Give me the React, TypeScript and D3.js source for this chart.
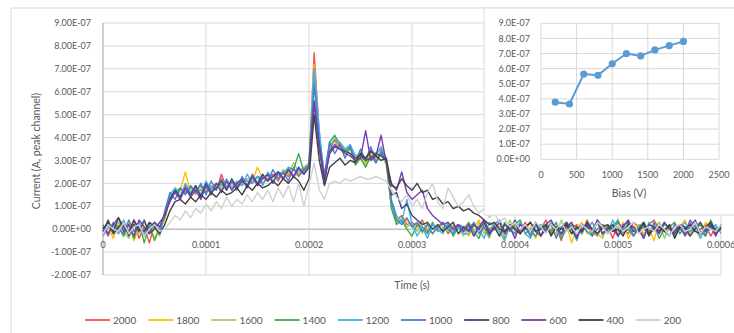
import React from 'react';
import * as d3 from 'd3';

// ---- Data (current values in units of 1e-8 A, sampled every 5 µs from 0 to 600 µs) ----
const seriesNames = ['2000', '1800', '1600', '1400', '1200', '1000', '800', '600', '400', '200'];
const seriesColors = ['#FF4B4B', '#FFC000', '#9BD35A', '#3BAA4E', '#3FB3F0', '#4A7FD0', '#3F4A75', '#7A3DB0', '#404040', '#D0D0D0'];
const timeStep = 5e-6;
const valueUnit = 1e-8;

const s2000 = [1,-3,2,-2,3,-1,4,-4,1,-6,2,-1, 5,13,17,14,19,15,18,17,16,19,17,24,18,20,19,22,19,21,23,20,22,24,21,25,23,26,24,27,28, 77,42,21,35,39,36,34,36,31,33,30,34,33,35,30, 12,4,6,2,3,1,4,-1,2,0,3,-2,1,2,-1, 2,-3,1,4,-2,0,3,-4,2,1,-1,3,-3,2,0,4,-2,1,-5,3,0,2,-2,4,-1,-3,2,1,-4,3,0,-2,3,1,-3,2,4,-1,0,-3,2,1,-2,3,-1,0,2,-3,1,0];
const s1800 = [-2,1,-4,2,-3,3,-5,1,-2,2,-4,0, 4,14,16,17,25,16,19,15,18,17,20,18,19,21,18,20,22,21,27,22,23,21,24,22,25,23,24,26,27, 72,40,22,37,38,35,33,35,29,32,28,33,30,34,29, 10,5,3,4,1,2,-2,3,0,2,-1,1,3,-2,0, -3,1,4,-2,0,3,-1,-5,2,0,3,-2,1,-4,2,0,3,-3,1,2,-6,1,3,-2,0,4,-3,1,2,-1,3,-4,0,2,-2,1,-5,3,0,2,-3,1,4,-2,0,-4,3,1,-2,2];
const s1600 = [0,2,-2,3,-1,-4,2,-2,3,-1,1,-3, 6,13,18,16,17,19,15,18,17,19,18,20,17,21,20,19,22,21,23,22,24,23,22,26,24,29,25,27,29, 70,41,23,36,40,37,35,33,30,34,29,32,31,33,28, 11,3,5,1,2,-1,3,0,-2,2,1,-1,2,0,-3, 1,-2,3,0,-4,2,1,-3,4,-1,0,2,-2,3,-3,1,0,-2,4,-1,2,-3,0,1,3,-2,-4,2,0,1,-1,3,-3,2,0,-2,1,3,-4,1,0,2,-1,-3,2,3,-2,0,1,-1];
const s1400 = [-1,3,-2,1,-3,2,-4,3,-6,2,-5,1, 5,14,16,18,16,18,17,19,16,18,20,19,21,18,20,22,21,20,23,22,24,23,25,24,27,26,33,25,28, 68,39,20,38,41,37,34,36,28,31,27,32,29,33,30, 9,2,4,0,-3,2,1,-2,3,-1,0,2,-3,1,0, 3,-1,-4,2,0,1,-3,3,-1,2,4,-2,0,-3,1,2,-1,3,-4,0,2,1,-2,3,-3,0,2,-1,1,4,-2,0,-3,1,3,-1,2,-4,0,1,3,-2,1,-1,0,2,-3,4,-1,1];
const s1200 = [-3,1,2,-2,4,-1,1,3,-2,0,2,-1, 7,15,18,14,20,16,19,15,21,17,20,17,22,18,21,19,24,20,23,19,25,21,24,22,27,23,26,24,27, 70,43,22,36,39,38,35,37,32,33,31,35,32,36,31, 13,6,3,13,2,-3,1,-4,2,0,-2,3,-1,1,-2, -2,2,0,-4,3,1,-1,-5,2,0,3,-2,-4,1,2,-1,3,0,-3,2,1,-5,2,0,3,-2,1,-1,4,-3,0,2,-1,1,-4,3,0,-2,2,1,-3,0,3,-1,2,-4,1,0,2,-2];
const s1000 = [2,-2,3,0,-2,4,-1,2,-3,1,3,-2, 8,16,13,18,15,19,16,20,15,21,17,22,18,21,17,23,19,24,20,23,21,26,22,25,21,27,23,26,28, 63,38,24,38,33,37,31,36,29,35,30,36,29,34,30, 12,4,2,5,1,3,-1,2,-2,1,3,0,-2,2,1, 0,3,-2,1,-3,2,4,-1,0,-2,2,1,-3,3,0,-1,2,-4,1,3,-2,0,2,-1,-3,4,1,-2,0,3,-1,2,-3,0,1,-2,3,1,-1,-3,2,0,-2,4,1,-1,-3,2,0,1];
const s800 = [-1,4,-2,1,3,-3,2,-1,4,-2,0,3, 6,13,17,14,18,15,19,14,20,16,18,21,17,22,18,21,19,23,20,24,21,23,25,22,26,23,27,24,27, 55,36,22,33,36,35,34,33,31,32,30,31,33,32,30, 15,16,9,11,6,4,2,3,0,2,-1,1,3,-2,1, -1,2,0,3,-2,1,-3,2,0,4,-2,1,-1,3,-3,0,2,1,-2,3,0,-4,2,1,-1,3,-2,0,2,-3,1,4,-1,0,2,-3,1,-1,3,0,-2,2,1,-3,0,3,-1,2,-2,1];
const s600 = [1,-2,2,5,-1,2,-3,4,1,-2,3,1, 7,12,16,13,18,14,17,13,19,15,20,16,21,17,20,22,18,23,19,22,24,20,25,22,26,23,27,24,27, 56,35,20,34,37,35,33,32,30,31,43,30,32,41,29, 20,17,25,16,13,15,17,9,6,4,2,3,0,2,-1, 2,-3,1,4,-1,0,3,-2,1,-4,2,0,3,-1,-3,2,4,0,-2,1,3,-3,0,2,-1,4,-2,1,0,-3,2,3,-1,0,-4,2,1,-2,3,0,-1,2,-3,1,4,-2,0,1,-3,2];
const s400 = [0,3,-1,5,1,-2,4,0,-1,3,1,-2, 2,8,12,13,11,14,12,15,13,16,14,17,15,16,18,15,19,17,20,18,19,21,19,22,20,23,21,17,22, 50,30,19,27,29,31,28,30,29,33,31,34,32,30,31, 19,18,22,19,17,20,16,17,13,14,11,12,9,10,8, 9,7,6,4,2,3,0,-1,2,0,-2,1,3,-1,0,2,-3,1,0,2,-2,1,-1,3,0,-2,1,2,-1,0,-3,2,1,-1,3,-2,0,1,-1,2,-4,1,0,2,-1,-2,1,3,-1,0];
const s200 = [-2,2,0,-1,3,-2,1,2,-3,0,2,-1, 0,3,6,4,8,5,9,7,11,8,12,9,14,10,13,11,15,12,16,13,17,12,18,14,19,12,20,10,19, 29,17,13,20,21,20,22,21,22,23,22,22,23,22,21, 17,14,12,15,10,13,9,16,20,12,9,18,14,10,12, 15,10,7,9,5,7,3,5,1,3,0,2,-1,3,1,-2,2,0,3,-1,1,-2,2,0,-1,3,1,-2,0,2,-1,1,3,-2,0,1,-1,2,0,-3,1,2,-1,0,3,-2,1,0,-1,2];
const seriesValues = [s2000, s1800, s1600, s1400, s1200, s1000, s800, s600, s400, s200];

const xTicks = [0, 0.0001, 0.0002, 0.0003, 0.0004, 0.0005, 0.0006];
const xTickLabels = ['0', '0.0001', '0.0002', '0.0003', '0.0004', '0.0005', '0.0006'];
const yTicks = [-2e-7, -1e-7, 0, 1e-7, 2e-7, 3e-7, 4e-7, 5e-7, 6e-7, 7e-7, 8e-7, 9e-7];
const yTickLabels = ['-2.00E-07', '-1.00E-07', '0.00E+00', '1.00E-07', '2.00E-07', '3.00E-07', '4.00E-07', '5.00E-07', '6.00E-07', '7.00E-07', '8.00E-07', '9.00E-07'];

// Inset: peak current vs bias
const insetBias = [200, 400, 600, 800, 1000, 1200, 1400, 1600, 1800, 2000];
const insetPeak = [3.78e-7, 3.66e-7, 5.64e-7, 5.56e-7, 6.32e-7, 7.0e-7, 6.84e-7, 7.24e-7, 7.52e-7, 7.8e-7];
const insetXTicks = [0, 500, 1000, 1500, 2000, 2500];
const insetYTicks = [0, 1e-7, 2e-7, 3e-7, 4e-7, 5e-7, 6e-7, 7e-7, 8e-7, 9e-7];
const insetYTickLabels = ['0.0E+00', '1.0E-07', '2.0E-07', '3.0E-07', '4.0E-07', '5.0E-07', '6.0E-07', '7.0E-07', '8.0E-07', '9.0E-07'];

const FONT = 'Lato, "Open Sans", sans-serif';
const TXT = '#595959';
const GRID = '#D9D9D9';
const AXIS = '#BFBFBF';

export default function App() {
  const x = d3.scaleLinear().domain([0, 0.0006]).range([103, 721]);
  const y = d3.scaleLinear().domain([-2e-7, 9e-7]).range([275, 23]);
  const ix = d3.scaleLinear().domain([0, 2500]).range([541, 719]);
  const iy = d3.scaleLinear().domain([0, 9e-7]).range([159.3, 23.3]);

  const line = d3.line<number>()
    .x((_, i) => x(i * timeStep))
    .y((d) => y(d * valueUnit));
  const insetLine = d3.line<number>()
    .x((_, i) => ix(insetBias[i]))
    .y((d) => iy(d));

  // legend layout
  let lx = 85;
  const legendItems = seriesNames.map((name, i) => {
    const item = { name, color: seriesColors[i], x: lx };
    lx += 28 + name.length * 6.05 + 11;
    return item;
  });

  return (
    <svg width={734} height={333} style={{ position: 'fixed', left: 0, top: 0, background: '#fff' }} fontFamily={FONT}>
      <rect x={0} y={0} width={734} height={333} fill="#fff" />
      <rect x={11} y={8} width={740} height={340} fill="#fff" stroke={GRID} strokeWidth={1} />

      {/* main gridlines */}
      {yTicks.map((t, i) => (
        <line key={'hg' + i} x1={103} x2={721} y1={y(t)} y2={y(t)} stroke={t === 0 ? AXIS : GRID} strokeWidth={t === 0 ? 1.5 : 1} />
      ))}
      {xTicks.slice(1).map((t, i) => (
        <line key={'vg' + i} x1={x(t)} x2={x(t)} y1={y(9e-7)} y2={y(-2e-7)} stroke={GRID} strokeWidth={1} />
      ))}
      <line x1={103} x2={103} y1={y(9e-7)} y2={y(-2e-7)} stroke={AXIS} strokeWidth={1.5} />

      {/* y tick labels */}
      {yTicks.map((t, i) => (
        <text key={'yl' + i} x={91} y={y(t)} dy="0.35em" textAnchor="end" fontSize={9} fill={TXT}>{yTickLabels[i]}</text>
      ))}
      {/* x tick labels */}
      {xTicks.map((t, i) => (
        <text key={'xl' + i} x={x(t)} y={247.5} textAnchor="middle" fontSize={9} fill={TXT}>{xTickLabels[i]}</text>
      ))}

      {/* series */}
      {seriesValues.map((vals, i) => (
        <path key={'s' + i} d={line(vals) || ''} fill="none" stroke={seriesColors[i]} strokeWidth={1.4} strokeLinejoin="round" />
      ))}

      {/* axis titles */}
      <text x={412} y={289} textAnchor="middle" fontSize={10.5} fill={TXT}>Time (s)</text>
      <text transform="translate(40,151) rotate(-90)" textAnchor="middle" fontSize={10.5} fill={TXT}>Current (A, peak channel)</text>

      {/* legend */}
      {legendItems.map((it) => (
        <g key={'lg' + it.name}>
          <line x1={it.x} x2={it.x + 25} y1={320} y2={320} stroke={it.color} strokeWidth={1.8} />
          <text x={it.x + 28} y={320} dy="0.35em" fontSize={10} fill={TXT}>{it.name}</text>
        </g>
      ))}

      {/* inset */}
      <rect x={484} y={8} width={260} height={207} fill="#fff" stroke={GRID} strokeWidth={1} />
      {insetYTicks.map((t, i) => (
        <line key={'ihg' + i} x1={541} x2={719} y1={iy(t)} y2={iy(t)} stroke={GRID} strokeWidth={1} />
      ))}
      {insetXTicks.map((t, i) => (
        <line key={'ivg' + i} x1={ix(t)} x2={ix(t)} y1={iy(9e-7)} y2={iy(0)} stroke={GRID} strokeWidth={1} />
      ))}
      {insetYTicks.map((t, i) => (
        <text key={'iyl' + i} x={530} y={iy(t)} dy="0.35em" textAnchor="end" fontSize={9} fill={TXT}>{insetYTickLabels[i]}</text>
      ))}
      {insetXTicks.map((t, i) => (
        <text key={'ixl' + i} x={ix(t)} y={178} textAnchor="middle" fontSize={9} fill={TXT}>{String(t)}</text>
      ))}
      <text x={629} y={197} textAnchor="middle" fontSize={10.5} fill={TXT}>Bias (V)</text>
      <path d={insetLine(insetPeak) || ''} fill="none" stroke="#5B9BD5" strokeWidth={2} strokeLinejoin="round" />
      {insetPeak.map((v, i) => (
        <circle key={'ip' + i} cx={ix(insetBias[i])} cy={iy(v)} r={3.6} fill="#5B9BD5" />
      ))}
    </svg>
  );
}
